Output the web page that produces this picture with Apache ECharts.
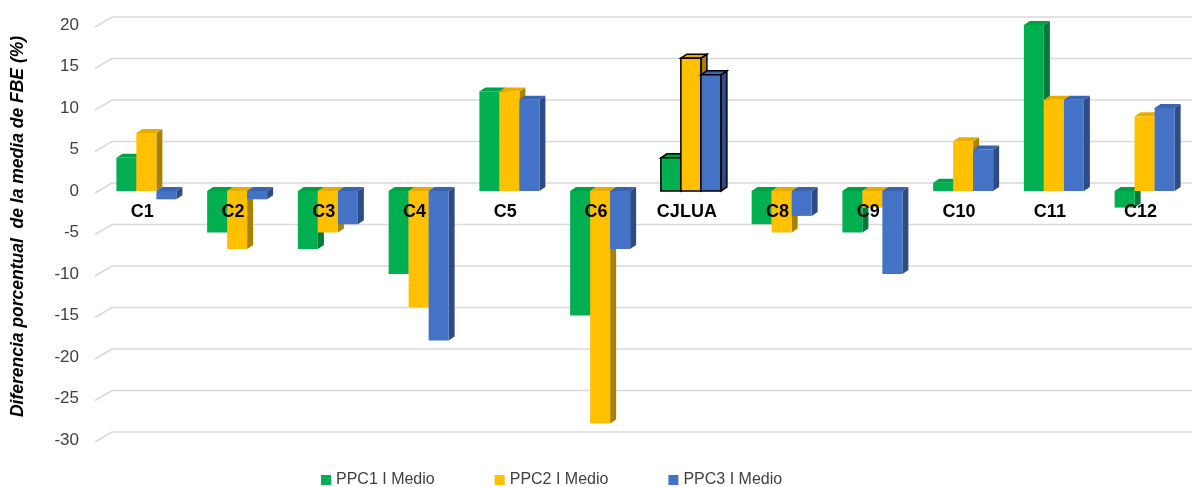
<!DOCTYPE html>
<html>
<head>
<meta charset="utf-8">
<script src="https://cdn.jsdelivr.net/npm/echarts@6/dist/echarts.min.js"></script>
<style>
  html, body { margin: 0; padding: 0; background: #fff; }
  #chart { width: 1192px; height: 487px; }
</style>
</head>
<body>
<div id="chart"></div>
<script>
// Categories and values (% difference from the FBE mean)
const categories = ['C1', 'C2', 'C3', 'C4', 'C5', 'C6', 'CJLUA', 'C8', 'C9', 'C10', 'C11', 'C12'];
const ppc1 = [4, -5, -7, -10, 12, -15, 4, -4, -5, 1, 20, -2];
const ppc2 = [7, -7, -5, -14, 12, -28, 16, -5, -2, 6, 11, 9];
const ppc3 = [-1, -1, -4, -18, 11, -7, 14, -3, -10, 5, 11, 10];
const seriesNames = ['PPC1 I Medio', 'PPC2 I Medio', 'PPC3 I Medio'];
const yTicks = [20, 15, 10, 5, 0, -5, -10, -15, -20, -25, -30];
const outlinedCategory = 'CJLUA';

const FONT = "'Liberation Sans', Arial, sans-serif";

// front / top / side face colours for each series
const faces = [
  { front: '#00B050', top: '#00A047', side: '#00793A' },
  { front: '#FFC000', top: '#E6AD00', side: '#A98000' },
  { front: '#4472C4', top: '#3B63AE', side: '#2D4C86' }
];

const BAR_W = 20;     // front face width
const DEPTH_X = 6;    // depth offset to the right
const DEPTH_Y = 4;    // depth offset upwards
const GROUP_SHIFT = -26;

function makeBarRenderer(k) {
  return function (params, api) {
    const ci = api.value(0);
    const v = api.value(1);
    const p0 = api.coord([ci, 0]);
    const p1 = api.coord([ci, v]);
    const x = p0[0] + GROUP_SHIFT + BAR_W * k;
    const yTop = Math.min(p0[1], p1[1]);
    const yBot = Math.max(p0[1], p1[1]);
    const f = faces[k];
    const outlined = categories[ci] === outlinedCategory;
    const stroke = outlined ? '#000' : null;
    const lw = outlined ? 1.5 : 0;
    return {
      type: 'group',
      children: [
        {
          type: 'polygon',
          shape: { points: [[x + BAR_W, yTop], [x + BAR_W + DEPTH_X, yTop - DEPTH_Y], [x + BAR_W + DEPTH_X, yBot - DEPTH_Y], [x + BAR_W, yBot]] },
          style: { fill: f.side, stroke: stroke, lineWidth: lw }
        },
        {
          type: 'polygon',
          shape: { points: [[x, yTop], [x + DEPTH_X, yTop - DEPTH_Y], [x + BAR_W + DEPTH_X, yTop - DEPTH_Y], [x + BAR_W, yTop]] },
          style: { fill: f.top, stroke: stroke, lineWidth: lw }
        },
        {
          type: 'rect',
          shape: { x: x, y: yTop, width: BAR_W, height: yBot - yTop },
          style: { fill: f.front, stroke: stroke, lineWidth: lw }
        }
      ]
    };
  };
}

// back-wall gridlines with a short perspective stub on the floor side
function renderGrid(params, api) {
  const y = api.coord([0, api.value(1)])[1];
  const cs = params.coordSys;
  return {
    type: 'polyline',
    shape: { points: [[cs.x - 2, y + 2], [cs.x + 15, y - 8], [cs.x + cs.width + 6, y - 8]] },
    style: { stroke: '#D9D9D9', lineWidth: 1.5, fill: null }
  };
}

const values = [ppc1, ppc2, ppc3];
const barSeries = values.map((arr, k) => ({
  name: seriesNames[k],
  type: 'custom',
  z: 2,
  itemStyle: { color: faces[k].front },
  encode: { x: 0, y: 1 },
  renderItem: makeBarRenderer(k),
  data: categories.map((c, i) => [i, arr[i]])
}));

const chart = echarts.init(document.getElementById('chart'));
chart.setOption({
  animation: false,
  backgroundColor: '#fff',
  textStyle: { fontFamily: FONT },
  grid: { left: 97, right: 6, top: 25, bottom: 47, containLabel: false, outerBoundsMode: 'none' },
  legend: {
    data: seriesNames,
    top: 467,
    left: 316,
    icon: 'rect',
    itemWidth: 10,
    itemHeight: 10,
    itemGap: 60,
    textStyle: { fontSize: 16, color: '#404040', fontFamily: FONT }
  },
  xAxis: {
    type: 'category',
    data: categories,
    z: 10,
    axisLine: { show: false, onZero: false },
    axisTick: { show: false },
    splitLine: { show: false },
    axisLabel: {
      margin: 12,
      fontSize: 18,
      fontWeight: 'bold',
      color: '#000',
      fontFamily: FONT,
      interval: 0
    }
  },
  yAxis: {
    type: 'value',
    min: -30,
    max: 20,
    interval: 5,
    axisLine: { show: false },
    axisTick: { show: false },
    splitLine: { show: false },
    axisLabel: {
      margin: 18,
      fontSize: 17,
      color: '#404040',
      fontFamily: FONT,
      padding: [4, 0, 0, 0]
    },
    name: 'Diferencia porcentual  de la media de FBE (%)',
    nameLocation: 'middle',
    nameGap: 70,
    nameTextStyle: {
      fontSize: 17.5,
      fontStyle: 'italic',
      fontWeight: 'bold',
      color: '#000',
      fontFamily: FONT,
      padding: [0, 0, 0, 12]
    }
  },
  series: [
    {
      type: 'custom',
      name: 'grid',
      silent: true,
      z: 1,
      encode: { x: 0, y: 1 },
      renderItem: renderGrid,
      data: yTicks.map(v => [0, v])
    }
  ].concat(barSeries)
});

// place the category labels on the zero line of the value axis
const zeroY = chart.convertToPixel({ yAxisIndex: 0 }, 0);
const bottomY = chart.convertToPixel({ yAxisIndex: 0 }, -30);
chart.setOption({ xAxis: { offset: zeroY - bottomY } });
</script>
</body>
</html>
